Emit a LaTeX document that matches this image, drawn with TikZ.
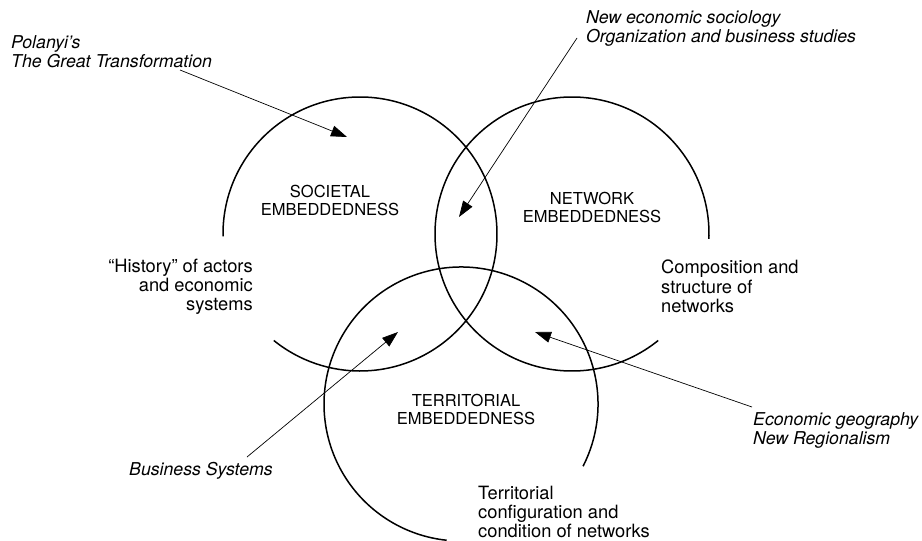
\documentclass[tikz,border=0pt]{standalone}
\usepackage{fontspec}
\setmainfont{TeX Gyre Heros}
\usetikzlibrary{arrows.meta}
\tikzset{
  ring/.style={line width=1.5pt},
  pointer/.style={line width=0.7pt, -{Triangle[length=16pt,width=11pt]}},
  caps/.style={align=center, inner sep=0pt, font=\fontsize{16.5}{18}\selectfont},
  side/.style={inner sep=0pt, font=\fontsize{18.3}{19.2}\selectfont},
  source/.style={inner sep=0pt, align=left, font=\fontsize{17.7}{19.5}\selectfont\itshape}
}
\begin{document}
\begin{tikzpicture}[x=1pt,y=1pt]
\useasboundingbox (0,0) rectangle (922,-541);
% the three open circles
\coordinate (socC) at (360,-234);
\coordinate (netC) at (572,-234);
\coordinate (terC) at (461,-404);
\draw[ring] ([shift={(181:137)}]socC) arc[start angle=181, end angle=-129, radius=137];
\draw[ring] ([shift={(-2:137)}]netC) arc[start angle=-2, end angle=309, radius=137];
\draw[ring] ([shift={(-27:137)}]terC) arc[start angle=-27, end angle=264, radius=137];
% dimension labels
\node[caps, anchor=north] (soc) at (330,-185) {SOCIETAL\\EMBEDDEDNESS};
\node[caps, anchor=north] (net) at (592,-192) {NETWORK\\EMBEDDEDNESS};
\node[caps, anchor=north] (ter) at (466,-394) {TERRITORIAL\\EMBEDDEDNESS};
% side texts
\node[side, align=right, anchor=north east] (hist) at (253,-259) {``History'' of actors\\and economic\\systems};
\node[side, align=left, anchor=north west] (comp) at (661,-260) {Composition and\\structure of\\networks};
\node[side, align=left, anchor=north west] (conf) at (478,-486) {Territorial\\configuration and\\condition of networks};
% sources
\node[source, anchor=north west] (polanyi) at (11,-35) {Polanyi's\\The Great Transformation};
\node[source, anchor=north west] (nes) at (586,-10) {New economic sociology\\Organization and business studies};
\node[source, anchor=north west] (geo) at (753,-412) {Economic geography\\New Regionalism};
\node[source, anchor=north west] (bus) at (129,-462) {Business Systems};
% arrows
\coordinate (polS) at (180,-70);  \coordinate (polT) at (347,-137);
\coordinate (nesS) at (577,-38);  \coordinate (nesT) at (459,-217);
\coordinate (geoS) at (752,-407); \coordinate (geoT) at (535,-332);
\coordinate (busS) at (247,-457); \coordinate (busT) at (398,-332);
\draw[pointer] (polS) -- (polT);
\draw[pointer] (nesS) -- (nesT);
\draw[pointer] (geoS) -- (geoT);
\draw[pointer] (busS) -- (busT);
\end{tikzpicture}
\end{document}
